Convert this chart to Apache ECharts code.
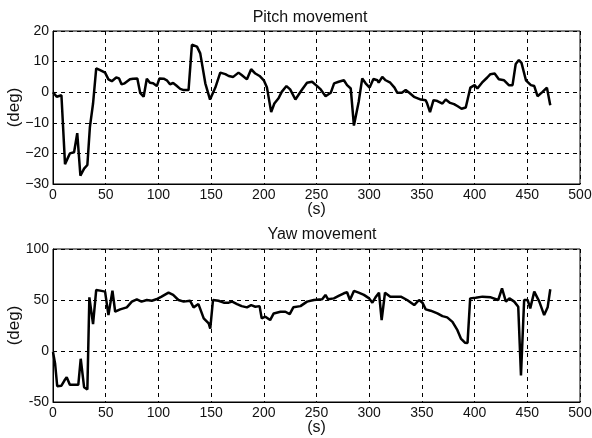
<!DOCTYPE html>
<html>
<head>
<meta charset="utf-8">
<script src="https://cdn.jsdelivr.net/npm/echarts@6/dist/echarts.min.js"></script>
<style>
html,body{margin:0;padding:0;background:#fff;}
#chart{width:592px;height:438px;}
</style>
</head>
<body>
<div id="chart"></div>
<script>
var titles = ['Pitch movement', 'Yaw movement'];
var xAxisName = '(s)';
var yAxisName = '(deg)';
var xTicks = [0, 50, 100, 150, 200, 250, 300, 350, 400, 450, 500];
var pitchTicks = [-30, -20, -10, 0, 10, 20];
var yawTicks = [-50, 0, 50, 100];

var pitchTime = [0,3.5,5,8,11.4,16,20,23,26,29.5,32.6,35,38,41,44.7,49.4,52.6,55.8,60,62.7,65,68,73,76,80,82.7,86,89,92,95,98.5,101,105,108,111,114,117,120.7,124,128.6,131.8,136.6,139.7,144.5,149,154,158.7,163.5,166.7,171,176,179,184,188,192,196,200,203,207,210,214,217,221.5,225,230,236,241,245.8,250.6,254,258.6,263.5,266.7,271,276,279,282.5,285.5,290,293.4,296.6,300.4,304,307.8,309,312.4,315.6,320,324,326.7,331,334.6,338,342.5,349,353.6,355,357.7,361,364.7,369.5,372.6,376.8,380.5,384,387.6,391.6,396,400,402.6,407,412,415,419,423,428,432.5,436,439,442,444.5,448.7,453.4,456.6,459.7,464.5,468.6,469.8,471.8];
var pitchDeg = [0,-1.5,-1.8,-1,-23.5,-20,-19.6,-13.4,-27.3,-25,-23.8,-11.4,-3.7,7.8,7.2,6.4,4.2,3.6,4.8,4.5,2.6,2.9,4.2,4.4,4.5,-0.2,-1.5,4.4,3.1,2.9,2,4.5,4.4,3.9,2.6,3,2.2,1.1,0.7,0.7,15.5,14.9,12.7,2.9,-2.4,1.5,6.4,5.9,5.3,5,6.4,5.6,4.2,7.5,6.1,5.3,3.9,1.5,-6.5,-3.7,-2,0.1,2,0.9,-2.4,0.7,3.1,3.4,2,0.9,-1.3,-0.2,2.9,3.4,3.9,2.3,1.2,-10.9,-3.2,4.5,2.9,1.5,4.3,3.9,3.1,5,3.9,3.1,1.5,-0.2,-0.2,0.7,-0.2,-1.5,-2.4,-2.6,-3.7,-6.5,-2.6,-2.9,-3.7,-2.4,-3.5,-3.9,-4.6,-5.4,-5,1.5,2.3,1.2,3.1,4.8,5.9,6.1,4.2,3.9,2.3,2.3,9.2,10.5,9.6,3.9,2.3,2,-1.3,0.1,1.5,1.5,-4.3];

var yawTime = [0,2,4,8,10.8,13,16,21,24,26.3,29.5,32.6,34.5,38,41,44.7,49.4,52.6,56.4,59,63.7,70,74.8,79.5,84,89,93.8,98,103,109.6,114,119,124,130,133.4,138,143,147.7,149.2,151.8,157,162,166.7,170,174.6,179,184,188,192,196,198,201.5,206,209.4,215.8,220.5,224.6,228,234.8,241,247.5,255.4,258.5,261,266.5,271,276,279,281.7,285.5,290,295,300,303,306,309.3,311.8,315,320,325,330,336,342.7,347.3,350.5,353.6,358.3,364.7,369.5,374,379,383.7,387,390.8,393.3,395.8,401,407.5,415.4,422.4,426,429.7,433,437.6,441.4,444,447,450.3,452.8,456.6,461.4,466,469.3,471.8];
var yawDeg = [-1,-12.5,-34.5,-34,-29,-25.7,-33,-33.2,-33.2,-7.6,-35.5,-37.8,52.6,26.3,59.9,59.2,58.2,35.2,59.2,38.5,40.8,42.8,48.4,50.7,48.4,50,49.3,50.7,53.3,57.2,55,50,48.4,49.3,42.8,46,32,27,22,50,49.3,47.4,47.4,48.4,46,44,42.8,45,43.4,44,32,33.6,30.3,36.8,38.5,38.5,36.2,42.8,44,48.4,50,50.7,55,50.7,51.6,54,56.6,57.6,50,58.9,57.2,55,51.6,47.4,52.6,57.2,30.3,57.2,53.3,53.3,53.3,50,45,50,47.4,40.8,39.5,36.8,34.2,33,28.6,20.4,12.2,8.2,7.9,51.6,52.3,53.3,52.6,50,61.5,48.4,51.6,48.4,43.4,-24,50,50,41.8,58.2,48.4,35.2,42.8,60.5];

function pairs(xs, ys) { return xs.map(function (x, i) { return [x, ys[i]]; }); }
function minusFmt(v) { return v < 0 ? '\u2212' + Math.abs(v) : String(v); }
function hyphenFmt(v) { return String(v); }

var font = 'Liberation Sans, Arial, Helvetica, sans-serif';
var gridTops = [31, 249];
var gridH = 153;

function makeX(idx) {
  return {
    type: 'value', gridIndex: idx, min: xTicks[0], max: xTicks[xTicks.length - 1],
    interval: xTicks[1] - xTicks[0],
    name: xAxisName, nameLocation: 'middle', nameGap: 18, nameMoveOverlap: false,
    nameTextStyle: { color: '#111', fontSize: 16, fontFamily: font },
    axisLine: { show: true, onZero: false, lineStyle: { color: '#000', width: 1 } },
    axisTick: { show: false },
    axisLabel: { color: '#111', fontSize: 14, fontFamily: font, margin: 4 },
    splitLine: { show: true, lineStyle: { color: '#000', type: [4, 4], width: 1 } }
  };
}
function makeY(idx, ticks, fmt) {
  return {
    type: 'value', gridIndex: idx, min: ticks[0], max: ticks[ticks.length - 1],
    interval: ticks[1] - ticks[0],
    name: yAxisName, nameLocation: 'middle', nameGap: 30, nameRotate: 90, nameMoveOverlap: false,
    nameTextStyle: { color: '#111', fontSize: 17, fontFamily: font },
    axisLine: { show: true, onZero: false, lineStyle: { color: '#000', width: 1 } },
    axisTick: { show: false },
    axisLabel: { color: '#111', fontSize: 14, fontFamily: font, margin: 4, formatter: fmt },
    splitLine: { show: true, lineStyle: { color: '#000', type: [4, 4], width: 1 } }
  };
}

var gridBase = { left: 53, width: 527, height: gridH, show: true, borderColor: '#000', borderWidth: 1, backgroundColor: 'transparent', containLabel: false, outerBoundsMode: 'none' };

var chart = echarts.init(document.getElementById('chart'), null, { renderer: 'canvas' });
chart.setOption({
  backgroundColor: '#fff',
  animation: false,
  title: [
    { text: titles[0], left: 305, top: 5, textAlign: 'center', textStyle: { color: '#111', fontSize: 16, fontWeight: 'normal', fontFamily: font } },
    { text: titles[1], left: 317, top: 222, textAlign: 'center', textStyle: { color: '#111', fontSize: 16, fontWeight: 'normal', fontFamily: font } }
  ],
  grid: [
    Object.assign({}, gridBase, { top: gridTops[0] }),
    Object.assign({}, gridBase, { top: gridTops[1] })
  ],
  xAxis: [makeX(0), makeX(1)],
  yAxis: [makeY(0, pitchTicks, minusFmt), makeY(1, yawTicks, hyphenFmt)],
  series: [
    { type: 'line', xAxisIndex: 0, yAxisIndex: 0, data: pairs(pitchTime, pitchDeg), showSymbol: false, lineStyle: { color: '#000', width: 2.5 }, itemStyle: { color: '#000' } },
    { type: 'line', xAxisIndex: 1, yAxisIndex: 1, data: pairs(yawTime, yawDeg), showSymbol: false, lineStyle: { color: '#000', width: 2.5 }, itemStyle: { color: '#000' } }
  ]
});
</script>
</body>
</html>
